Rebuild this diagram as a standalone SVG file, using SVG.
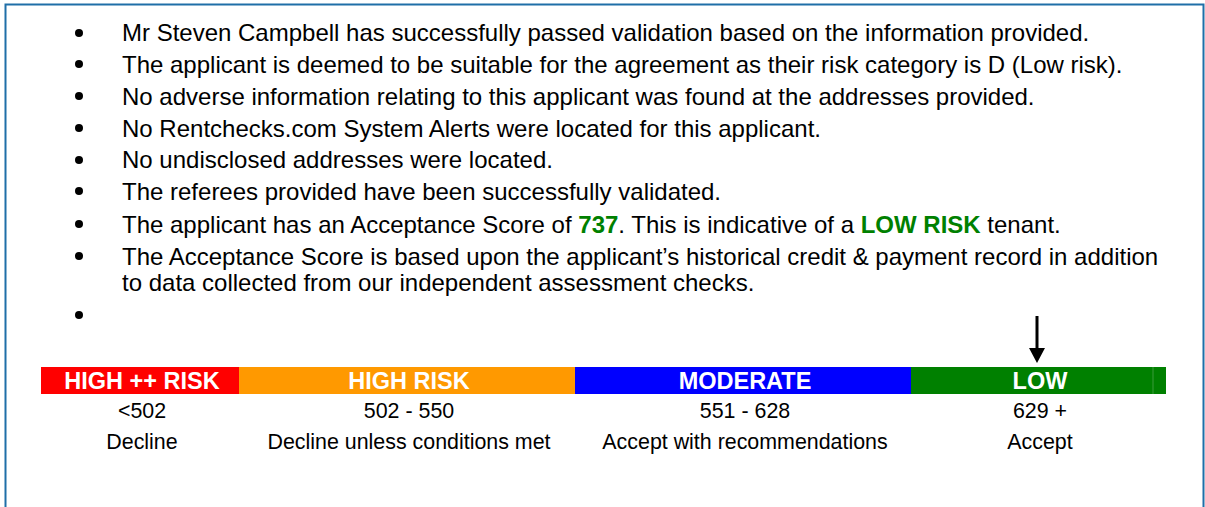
<svg xmlns="http://www.w3.org/2000/svg" width="1205" height="507" viewBox="0 0 1205 507">
<style>
.t{font-family:"Liberation Sans",Arial,sans-serif;font-size:24px;fill:#000}
.b{font-family:"Liberation Sans",Arial,sans-serif;font-size:23.5px;font-weight:bold;fill:#fff;text-anchor:middle}
.c{font-family:"Liberation Sans",Arial,sans-serif;font-size:21.4px;fill:#000;text-anchor:middle}
.g{font-weight:bold;fill:#008000}
</style>
<rect x="0" y="0" width="1205" height="507" fill="#fff"/>
<path d="M5.5,507 V4.5 H1203.5 V507" fill="none" stroke="#1f6fa8" stroke-width="2"/>
<g id="bullets">
<circle cx="79" cy="33" r="4"/><circle cx="79" cy="64" r="4"/><circle cx="79" cy="96" r="4"/><circle cx="79" cy="128" r="4"/><circle cx="79" cy="160" r="4"/><circle cx="79" cy="191" r="4"/><circle cx="79" cy="224" r="4"/><circle cx="79" cy="256" r="4"/><circle cx="79" cy="315" r="4"/>
<text class="t" x="122" y="41">Mr Steven Campbell has successfully passed validation based on the information provided.</text>
<text class="t" x="122" y="73">The applicant is deemed to be suitable for the agreement as their risk category is D (Low risk).</text>
<text class="t" x="122" y="105">No adverse information relating to this applicant was found at the addresses provided.</text>
<text class="t" x="122" y="137">No Rentchecks.com System Alerts were located for this applicant.</text>
<text class="t" x="122" y="168">No undisclosed addresses were located.</text>
<text class="t" x="122" y="200">The referees provided have been successfully validated.</text>
<text class="t" x="122" y="233">The applicant has an Acceptance Score of <tspan class="g">737</tspan>. This is indicative of a <tspan class="g">LOW RISK</tspan> tenant.</text>
<text class="t" x="122" y="265">The Acceptance Score is based upon the applicant’s historical credit &amp; payment record in addition</text>
<text class="t" x="122" y="291">to data collected from our independent assessment checks.</text>
</g>
<g id="scale">
<g id="high-plus">
<rect x="41" y="367" width="198" height="27" fill="#ff0000"/>
<text class="b" x="142" y="389">HIGH ++ RISK</text>
<text class="c" x="142" y="418">&lt;502</text>
<text class="c" x="142" y="449">Decline</text>
</g>
<g id="high">
<rect x="239" y="367" width="336" height="27" fill="#ff9900"/>
<text class="b" x="409" y="389">HIGH RISK</text>
<text class="c" x="409" y="418">502 - 550</text>
<text class="c" x="409" y="449">Decline unless conditions met</text>
</g>
<g id="moderate">
<rect x="575" y="367" width="336" height="27" fill="#0000ff"/>
<text class="b" x="745" y="389">MODERATE</text>
<text class="c" x="745" y="418">551 - 628</text>
<text class="c" x="745" y="449">Accept with recommendations</text>
</g>
<g id="low">
<rect x="911" y="367" width="255" height="27" fill="#008000"/>
<line x1="1153" y1="367" x2="1153" y2="394" stroke="#3a9a3a" stroke-width="1"/>
<text class="b" x="1040" y="389">LOW</text>
<text class="c" x="1040" y="418">629 +</text>
<text class="c" x="1040" y="449">Accept</text>
</g>
</g>
<g id="connectors">
<line x1="1037" y1="316" x2="1037" y2="350" stroke="#000" stroke-width="3"/>
<polygon points="1029,348 1045,348 1037,363" fill="#000"/>
</g>
</svg>
